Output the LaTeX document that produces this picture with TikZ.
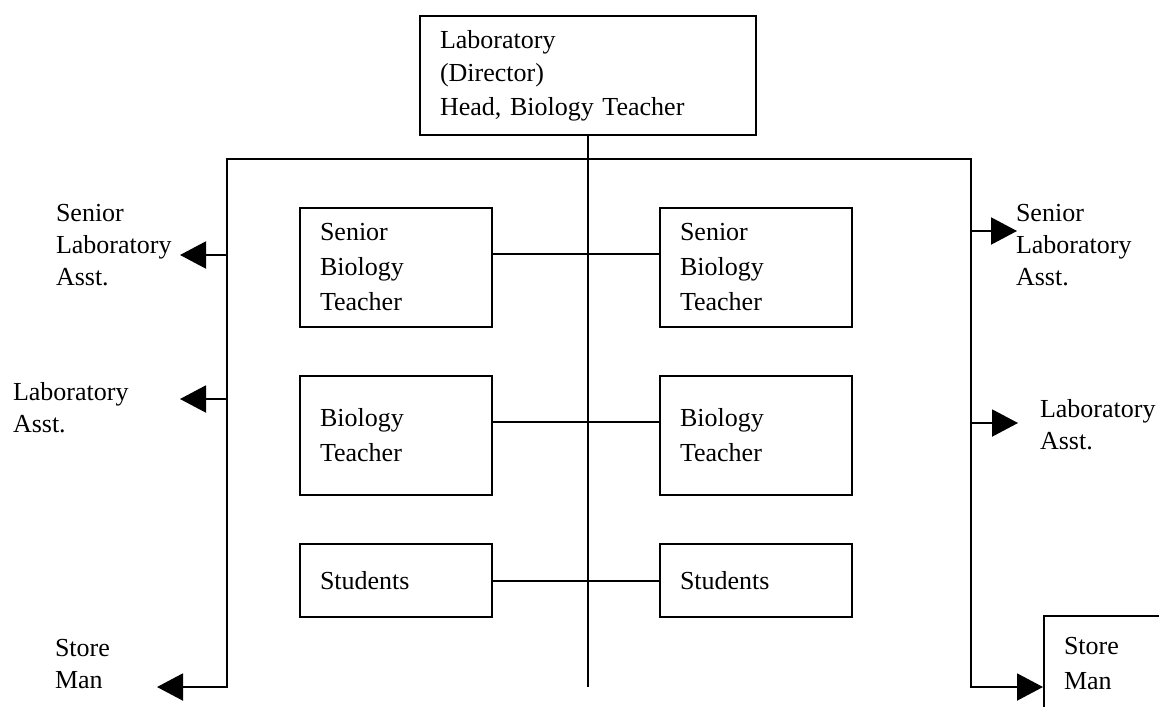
\documentclass[tikz,border=0pt]{standalone}
\usepackage{fontspec}
\setmainfont{Liberation Serif}
\usetikzlibrary{arrows.meta}
\tikzset{>={Triangle[length=13pt,width=13.5pt]}}
\tikzset{
	box/.style={draw,line width=1pt,anchor=north west,align=left,inner xsep=10pt,inner ysep=0pt,font=\fontsize{13}{17.5}\selectfont},
	lbl/.style={anchor=west,align=left,inner sep=0pt,font=\fontsize{13}{16}\selectfont}
}

\begin{document}
\begin{tikzpicture}[x=0.5pt,y=-0.5pt,line width=1pt]
		\clip (0,0) rectangle (1159,706);
		% head of the laboratory
		\node[box,text width=148pt,minimum height=59.5pt,font=\fontsize{13}{16.75}\selectfont] (head) at (419,15) {Laboratory\\(Director)\\Head, Biology Teacher};
		% teachers and students
		\node[box,text width=76pt,minimum height=59.5pt] (sbtl) at (299,207) {Senior\\Biology\\Teacher};
		\node[box,text width=76pt,minimum height=59.5pt] (sbtr) at (659,207) {Senior\\Biology\\Teacher};
		\node[box,text width=76pt,minimum height=59.5pt] (btl) at (299,375) {Biology\\Teacher};
		\node[box,text width=76pt,minimum height=59.5pt] (btr) at (659,375) {Biology\\Teacher};
		\node[box,text width=76pt,minimum height=36.5pt] (stl) at (299,543) {Students};
		\node[box,text width=76pt,minimum height=36.5pt] (str) at (659,543) {Students};
		\node[box,text width=80pt,minimum height=47.5pt] (smr) at (1043,615) {Store\\Man};
		% assistants
		\node[lbl] (slal) at (55,245) {Senior\\Laboratory\\Asst.};
		\node[lbl] (lal) at (12,408) {Laboratory\\Asst.};
		\node[lbl] (sml) at (54,664) {Store\\Man};
		\node[lbl] (slar) at (1015,245) {Senior\\Laboratory\\Asst.};
		\node[lbl] (lar) at (1039,425) {Laboratory\\Asst.};
		% corners, junctions and tips
		\coordinate (lt) at (227,159);
		\coordinate (rt) at (971,159);
		\coordinate (bot) at (587,687);
		\coordinate (j1) at (587,254);
		\coordinate (j2) at (587,422);
		\coordinate (j3) at (587,581);
		\coordinate (t1) at (180,255);
		\coordinate (t2) at (180,399);
		\coordinate (t3) at (157,687);
		\coordinate (t4) at (1017,231);
		\coordinate (t5) at (1018,423);
		% lines
		\draw (head.south) -- (head.south |- bot);
		\draw[line cap=rect] (lt) -- (rt);
		\draw[->] (lt) |- (t3);
		\draw[->] (rt) |- (smr.west |- t3);
		\draw[->] (lt |- t1) -- (t1);
		\draw[->] (lt |- t2) -- (t2);
		\draw[->] (rt |- t4) -- (t4);
		\draw[->] (rt |- t5) -- (t5);
		\draw (sbtl.east |- j1) -- (sbtr.west |- j1);
		\draw (btl.east |- j2) -- (btr.west |- j2);
		\draw (stl.east |- j3) -- (str.west |- j3);
	\end{tikzpicture}
\end{document}
